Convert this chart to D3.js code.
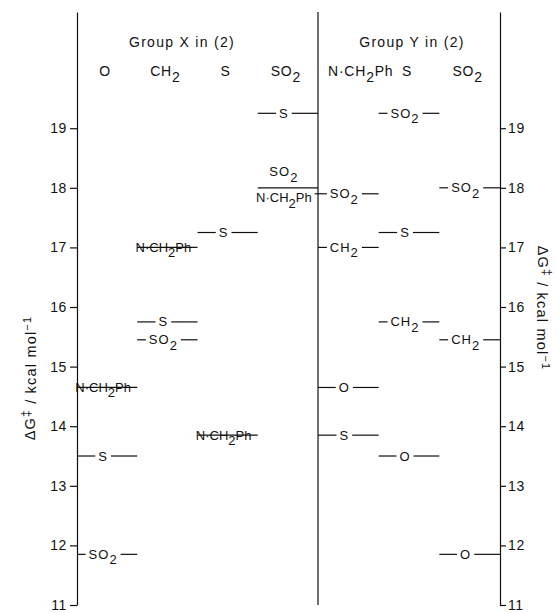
<!DOCTYPE html>
<html>
<head>
<meta charset="utf-8">
<script src="https://cdn.jsdelivr.net/npm/d3@7"></script>
<style>
  body { margin: 0; background: #fff; }
  svg text { font-family: "Liberation Sans", Arial, sans-serif; fill: #111; }
</style>
</head>
<body>
<svg id="chart" width="558" height="613"></svg>
<script>
// Substituent groups (an underscore marks a subscript character)
const groupsX = ["O", "CH_2", "S", "SO_2"];
const groupsY = ["N·CH_2Ph", "S", "SO_2"];

// Compounds (2): group X, group Y and the measured barrier ΔG‡ / kcal mol⁻¹
const compoundX = ["O", "O", "O", "CH_2", "CH_2", "CH_2", "S", "S", "SO_2", "SO_2", "SO_2"];
const compoundY = ["N·CH_2Ph", "S", "SO_2", "N·CH_2Ph", "S", "SO_2", "S", "N·CH_2Ph", "S", "SO_2", "N·CH_2Ph"];
const barrier   = [14.65, 13.5, 11.85, 17.0, 15.75, 15.45, 17.25, 13.85, 19.25, 18.0, 17.9];

const tickValues = [11, 12, 13, 14, 15, 16, 17, 18, 19];
const panelTitles = ["Group X in (2)", "Group Y in (2)"];

const svg = d3.select("#chart");
const ink = "#111";
const fontSize = 14;
const spacing = 1.3;

const xLeft = 77, xMid = 318, xRight = 500;
const yTop = 12, yBottom = 605;

const y = d3.scaleLinear().domain([11, 20.95]).range([yBottom, yTop]);
const xX = d3.scaleBand().domain(groupsX).range([xLeft, xMid]);
const xY = d3.scaleBand().domain(groupsY).range([xMid, xRight]);

// Writes a formula such as "SO_2" into a text element, dropping subscripts
function writeFormula(textSel, str) {
  const parts = str.split("_");
  textSel.append("tspan").text(parts[0]);
  parts.slice(1).forEach(p => {
    textSel.append("tspan").attr("dy", "0.4em").text(p.charAt(0));
    if (p.length > 1) textSel.append("tspan").attr("dy", "-0.4em").text(p.slice(1));
  });
}

// Axes
function styleAxis(g) {
  g.attr("font-family", null).attr("font-size", null);
  g.selectAll("path, line").attr("stroke", ink).attr("stroke-width", 1.2);
  g.selectAll("text").attr("font-size", fontSize).attr("letter-spacing", 0.6).attr("fill", ink);
}
svg.append("g")
  .attr("transform", `translate(${xLeft},0)`)
  .call(d3.axisLeft(y).tickValues(tickValues).tickFormat(d3.format("d"))
    .tickSize(7).tickPadding(3).tickSizeOuter(0))
  .call(styleAxis);
svg.append("g")
  .attr("transform", `translate(${xRight},0)`)
  .call(d3.axisRight(y).tickValues(tickValues).tickFormat(d3.format("d"))
    .tickSize(6).tickPadding(2).tickSizeOuter(0))
  .call(styleAxis);

// Divider between the two panels
svg.append("line")
  .attr("x1", xMid).attr("x2", xMid).attr("y1", yTop).attr("y2", yBottom)
  .attr("stroke", ink).attr("stroke-width", 1.2);

// Axis titles
function axisTitle(x, yc, angle) {
  const t = svg.append("text")
    .attr("transform", `translate(${x},${yc}) rotate(${angle})`)
    .attr("text-anchor", "middle")
    .attr("font-size", 14.5)
    .attr("letter-spacing", 1.2);
  t.append("tspan").text("ΔG");
  t.append("tspan").attr("dy", "-0.45em").attr("font-size", 12).text("‡");
  t.append("tspan").attr("dy", "0.45em").text(" / kcal mol");
  t.append("tspan").attr("dy", "-0.45em").attr("font-size", 11).text("−1");
}
axisTitle(35, 378, -90);
axisTitle(538, 308, 90);

// Panel titles and column headers
const panels = [
  { scale: xX, groups: groupsX, title: panelTitles[0], titleX: 182,
    column: compoundX, label: compoundY },
  { scale: xY, groups: groupsY, title: panelTitles[1], titleX: 412,
    column: compoundY, label: compoundX }
];

panels.forEach(p => {
  svg.append("text")
    .attr("x", p.titleX).attr("y", 47)
    .attr("text-anchor", "middle").attr("font-size", fontSize)
    .attr("letter-spacing", spacing)
    .text(p.title);
  p.groups.forEach(gName => {
    const b0 = p.scale(gName);
    const t = svg.append("text")
      .attr("x", b0 + p.scale.bandwidth() / 2 - 2)
      .attr("y", 76)
      .attr("text-anchor", "middle").attr("font-size", fontSize)
      .attr("letter-spacing", spacing * 0.6);
    writeFormula(t, gName);
    // keep a wide header clear of the panel edge
    const bb = t.node().getBBox();
    if (bb.x < b0 + 10) t.attr("x", +t.attr("x") + (b0 + 10 - bb.x));
  });
});

// Energy levels: one short line per compound in each panel, labelled with the other group
const marks = svg.append("g");
panels.forEach(p => {
  barrier.forEach((v, i) => {
    const col = p.column[i];
    const x0 = p.scale(col), x1 = x0 + p.scale.bandwidth();
    const yv = y(v);
    // a neighbouring level in the same column that is too close for labels on the line
    const near = barrier.filter((w, j) => j !== i && p.column[j] === col && Math.abs(w - v) < 0.2);
    const above = near.some(w => w < v);   // this level is the upper of a close pair
    const below = near.some(w => w > v);   // this level is the lower of a close pair

    const t = marks.append("text")
      .attr("x", (x0 + x1) / 2 - 4)
      .attr("y", above ? yv - 16 : (below ? yv + 4 : yv))
      .attr("dy", "0.35em")
      .attr("text-anchor", "middle")
      .attr("font-size", 13);
    writeFormula(t, p.label[i]);

    let bb = t.node().getBBox();
    const short = bb.width < p.scale.bandwidth() - 16;
    if (short) { t.attr("letter-spacing", 1); bb = t.node().getBBox(); }
    let segs;
    if (above || (!short && !below)) {
      segs = [[x0, x1]];
    } else {
      segs = [[x0, bb.x - 3], [bb.x + bb.width + 3, x1]];
    }
    segs.filter(s => s[1] - s[0] > 1).forEach(s => {
      marks.append("line")
        .attr("x1", s[0]).attr("x2", s[1]).attr("y1", yv).attr("y2", yv)
        .attr("stroke", ink).attr("stroke-width", 1.2);
    });
  });
});
</script>
</body>
</html>
